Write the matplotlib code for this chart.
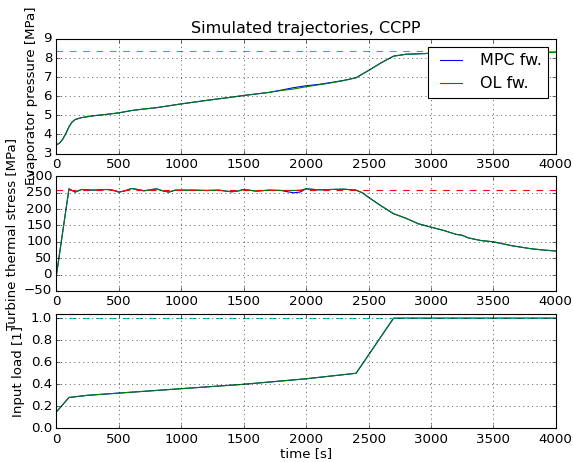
import matplotlib
matplotlib.use('Agg')
import matplotlib.pyplot as plt

# evaporator pressure [MPa]
t_p = [0, 25, 50, 75, 100, 125, 150, 200, 300, 400, 500, 600, 700, 800, 900,
       1000, 1200, 1400, 1500, 1700, 1800, 1900, 2000, 2100, 2200, 2300, 2400,
       2500, 2600, 2700, 2800, 3000, 3500, 4000]
p_ol = [3.45, 3.55, 3.75, 4.05, 4.4, 4.65, 4.78, 4.88, 4.98, 5.05, 5.13, 5.25,
        5.33, 5.4, 5.5, 5.6, 5.78, 5.95, 6.04, 6.2, 6.3, 6.38, 6.5, 6.6, 6.7,
        6.82, 6.97, 7.35, 7.75, 8.1, 8.2, 8.25, 8.28, 8.3]
p_mpc = [3.45, 3.55, 3.75, 4.05, 4.4, 4.65, 4.78, 4.88, 4.98, 5.05, 5.13, 5.25,
         5.33, 5.4, 5.5, 5.6, 5.78, 5.95, 6.04, 6.2, 6.32, 6.45, 6.55, 6.62, 6.72,
         6.83, 6.97, 7.35, 7.75, 8.1, 8.2, 8.25, 8.28, 8.3]
p_max = 8.37

# turbine thermal stress [MPa]
t_s = [0, 100, 150, 200, 300, 400, 450, 500, 550, 600, 650, 700, 800, 850, 900,
       950, 1000, 1100, 1200, 1300, 1400, 1450, 1500, 1600, 1700, 1800, 1850,
       1900, 1950, 2000, 2100, 2200, 2300, 2400, 2450, 2500, 2600, 2700, 2800,
       2900, 3000, 3100, 3200, 3250, 3300, 3350, 3400, 3500, 3600, 3650, 3700,
       3800, 3900, 4000]
s_ol = [0, 262, 252, 260, 258, 260, 258, 252, 256, 263, 260, 256, 262, 256, 252,
        258, 258, 258, 257, 258, 253, 255, 260, 255, 258, 257, 257, 257, 258, 262,
        259, 260, 261, 258, 250, 236, 210, 186, 172, 155, 145, 135, 123, 120, 112,
        108, 104, 100, 92, 88, 85, 79, 75, 72]
s_mpc = [0, 262, 252, 260, 258, 260, 258, 252, 256, 263, 260, 256, 262, 256, 252,
         258, 258, 258, 257, 258, 253, 255, 260, 255, 258, 257, 253, 250, 252, 262,
         259, 260, 261, 258, 250, 236, 210, 186, 172, 155, 145, 135, 123, 120, 112,
         108, 104, 100, 92, 88, 85, 79, 75, 72]
s_max = 258

# input load [1]
t_u = [0, 100, 250, 500, 750, 1000, 1500, 1900, 2000, 2400, 2700, 4000]
u_ol = [0.15, 0.28, 0.30, 0.32, 0.34, 0.36, 0.40, 0.44, 0.45, 0.50, 1.0, 1.0]
u_mpc = [0.15, 0.28, 0.30, 0.32, 0.34, 0.36, 0.40, 0.44, 0.45, 0.50, 1.0, 1.0]
u_max = 1.0

plt.style.use('classic')
fig = plt.figure(figsize=(573 / 80.0, 462 / 80.0), dpi=80, facecolor='white')
fig.subplots_adjust(left=0.0986, right=0.970, top=0.9156, bottom=0.0729, hspace=0.2)

ax1 = fig.add_subplot(311)
ax1.plot(t_p, p_mpc, 'b', label='MPC fw.')
ax1.plot(t_p, p_ol, 'g', label='OL fw.')
ax1.axhline(p_max, color='c', linestyle='--')
ax1.set_ylim(3, 9)
ax1.set_xlim(0, 4000)
ax1.set_ylabel('Evaporator pressure [MPa]')
ax1.set_title('Simulated trajectories, CCPP')
ax1.grid(True)
ax1.legend(loc='upper right')

ax2 = fig.add_subplot(312)
ax2.plot(t_s, s_mpc, 'b')
ax2.plot(t_s, s_ol, 'g')
ax2.axhline(s_max, color='r', linestyle='--')
ax2.set_ylim(-50, 300)
ax2.set_xlim(0, 4000)
ax2.set_ylabel('Turbine thermal stress [MPa]')
ax2.grid(True)

ax3 = fig.add_subplot(313)
ax3.plot(t_u, u_mpc, 'b')
ax3.plot(t_u, u_ol, 'g')
ax3.axhline(u_max, color='c', linestyle='--')
ax3.set_ylim(0, 1.04)
ax3.set_xlim(0, 4000)
ax3.set_ylabel('Input load [1]')
ax3.set_xlabel('time [s]', labelpad=1)
ax3.grid(True)

fig.savefig('out.png', dpi=80, facecolor='white')
